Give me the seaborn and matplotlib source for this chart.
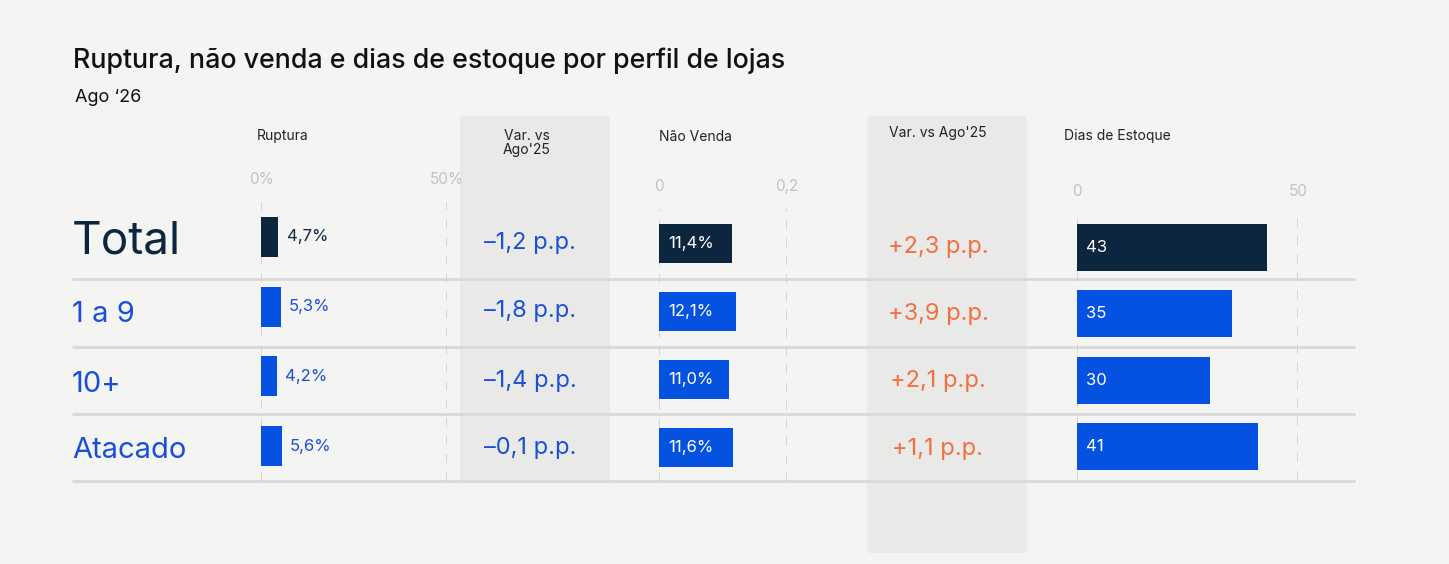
import matplotlib
matplotlib.use("Agg")
import matplotlib.pyplot as plt
from matplotlib.patches import FancyBboxPatch
import seaborn as sns
import pandas as pd

# ---------------- data ----------------
groups = ["Total", "1 a 9", "10+", "Atacado"]
ruptura = [4.7, 5.3, 4.2, 5.6]            # %
var_ruptura = [-1.2, -1.8, -1.4, -0.1]    # p.p.
nao_venda = [0.114, 0.121, 0.110, 0.116]  # share
var_nao_venda = [2.3, 3.9, 2.1, 1.1]      # p.p.
dias_estoque = [43, 35, 30, 41]

ruptura_ticks = [0, 50]
ruptura_ticklabels = ["0%", "50%"]
nv_ticks = [0, 0.2]
nv_ticklabels = ["0", "0,2"]
dias_ticks = [0, 50]
dias_ticklabels = ["0", "50"]

title = "Ruptura, não venda e dias de estoque por perfil de lojas"
subtitle = "Ago \u201826"

# ---------------- style ----------------
BG = "#f4f4f2"
PANEL = "#e9e9e7"
NAVY = "#0d2640"
BLUE = "#0551e0"
TXTBLUE = "#1a4fd8"
ORANGE = "#f36f3f"
GRID = "#d2d2d0"
SEP = "#d9d9d7"
TICK = "#c2c2c0"

sns.set_theme(style="white")
plt.rcParams["font.family"] = ["Inter", "DejaVu Sans"]

W, H = 1449, 564
fig = plt.figure(figsize=(W / 100, H / 100), dpi=100, facecolor=BG)

def fx(px):
    return px / W

def fy(py):
    return 1 - py / H

# background overlay in pixel coordinates
bg = fig.add_axes([0, 0, 1, 1], zorder=0)
bg.set_xlim(0, W)
bg.set_ylim(H, 0)
bg.axis("off")
bg.set_facecolor(BG)

# grey panels
for x0, x1, y0, y1 in [(460, 610, 116, 483), (867, 1027, 116, 553)]:
    bg.add_patch(FancyBboxPatch((x0, y0), x1 - x0, y1 - y0,
                                boxstyle="round,pad=0,rounding_size=4",
                                facecolor=PANEL, edgecolor="none"))

# separators
for yy in [279, 347, 414, 481]:
    bg.plot([72, 1355], [yy, yy], color=SEP, lw=2, solid_capstyle="butt")

# title
bg.text(73, 61, title, fontsize=19.3, color="#111111", va="center", ha="left",
        fontweight="medium")
bg.text(75, 97, subtitle, fontsize=13, color="#111111", va="center", ha="left")

# headers
hdr_kw = dict(fontsize=10, color="#222222", va="center")
bg.text(257, 136, "Ruptura", ha="left", **hdr_kw)
bg.text(527, 143, "Var. vs\nAgo'25", ha="center", linespacing=1.0, **hdr_kw)
bg.text(659, 137, "Não Venda", ha="left", **hdr_kw)
bg.text(889, 133, "Var. vs Ago'25", ha="left", **hdr_kw)
bg.text(1064, 136, "Dias de Estoque", ha="left", **hdr_kw)

# row labels
row_y = [242, 315, 384, 451]
row_sizes = [33, 21, 21, 21]
for g, yy, fs, i in zip(groups, row_y, row_sizes, range(len(groups))):
    bg.text(72, yy, g, fontsize=fs, color=NAVY if i == 0 else TXTBLUE,
            va="center", ha="left")

# variation columns
var1_y = [243, 311, 381, 448]
for v, yy in zip(var_ruptura, var1_y):
    s = f"{v:+.1f}".replace(".", ",").replace("-", "\u2013")
    bg.text(530, yy, f"{s} p.p.", fontsize=17, color=TXTBLUE, ha="center", va="center")
var2_y = [247, 314, 381, 449]
for v, yy in zip(var_nao_venda, var2_y):
    s = f"{v:+.1f}".replace(".", ",")
    bg.text(938, yy, f"{s} p.p.", fontsize=17, color=ORANGE, ha="center", va="center")

palette = [NAVY, BLUE, BLUE, BLUE]


def bar_panel(x0, x1, y0, y1, values, xmax, ticks, ticklabels, bar_h,
              labels, inside, label_colors):
    ax = fig.add_axes([fx(x0), fy(y1), fx(x1) - fx(x0), (y1 - y0) / H], zorder=2)
    ax.set_facecolor("none")
    df = pd.DataFrame({"g": groups, "v": values})
    sns.barplot(data=df, x="v", y="g", hue="g", palette=palette, orient="h",
                width=bar_h, saturation=1, legend=False, ax=ax, linewidth=0)
    ax.set_xlim(0, xmax)
    ax.set_ylim(len(groups) - 0.5, -0.5)
    ax.set_xlabel("")
    ax.set_ylabel("")
    ax.set_yticks([])
    ax.xaxis.set_ticks_position("top")
    ax.set_xticks(ticks)
    ax.set_xticklabels(ticklabels)
    ax.tick_params(axis="x", length=0, pad=11, labelsize=11, labelcolor=TICK)
    for sp in ax.spines.values():
        sp.set_visible(False)
    for t in ticks:
        ax.axvline(t, color=GRID, lw=1.3, ls=(0, (5, 5)), zorder=0)
    for i, (v, lab) in enumerate(zip(values, labels)):
        if inside:
            ax.annotate(lab, (0, i), xytext=(6.5, 0), textcoords="offset points",
                        color="white", fontsize=12, va="center", ha="left")
        else:
            ax.annotate(lab, (v, i), xytext=(6, 0), textcoords="offset points",
                        color=label_colors[i], fontsize=12, va="center", ha="left")
    return ax


rup_labels = [f"{v:.1f}%".replace(".", ",") for v in ruptura]
bar_panel(261, 447, 202, 481, ruptura, 50, ruptura_ticks, ruptura_ticklabels,
          0.57, rup_labels, False, [NAVY, TXTBLUE, TXTBLUE, TXTBLUE])

nv_labels = [f"{v * 100:.1f}%".replace(".", ",") for v in nao_venda]
bar_panel(659, 787, 209, 482, nao_venda, 0.2, nv_ticks, nv_ticklabels,
          0.57, nv_labels, True, None)

dias_labels = [f"{v:d}" for v in dias_estoque]
bar_panel(1077, 1298, 214, 480, dias_estoque, 50, dias_ticks, dias_ticklabels,
          0.71, dias_labels, True, None)

fig.savefig("out.png", dpi=100, facecolor=BG)
